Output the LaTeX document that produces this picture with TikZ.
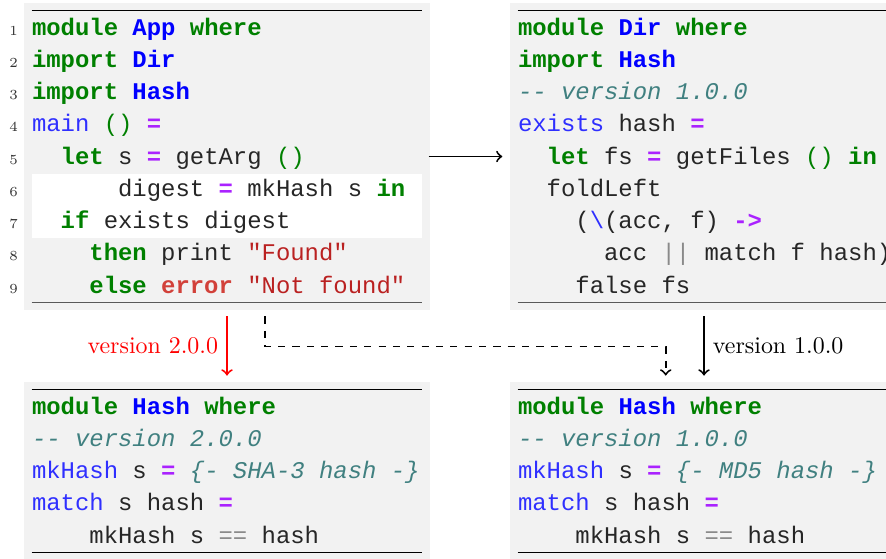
\documentclass[tikz,border=0pt]{standalone}
\usepackage{fontspec}
\setmonofont{Liberation Mono}
\usetikzlibrary{calc}

\definecolor{kwgreen}{HTML}{008000}
\definecolor{nsblue}{HTML}{0000FF}
\definecolor{fnblue}{HTML}{2F2FFF}
\definecolor{opviolet}{HTML}{AA22FF}
\definecolor{cmteal}{HTML}{408080}
\definecolor{strred}{HTML}{BA2121}
\definecolor{excred}{HTML}{D2413A}
\definecolor{opgray}{HTML}{8A8A8A}
\definecolor{codebg}{HTML}{F2F2F2}

% highlighting of the haskell code
\newcommand{\hkw}[1]{\textcolor{kwgreen}{\textbf{#1}}}
\newcommand{\hmod}[1]{\textcolor{nsblue}{\textbf{#1}}}
\newcommand{\hfun}[1]{\textcolor{fnblue}{#1}}
\newcommand{\hbi}[1]{\textcolor{kwgreen}{#1}}
\newcommand{\hop}[1]{\textcolor{opviolet}{\textbf{#1}}}
\newcommand{\hcom}[1]{\textcolor{cmteal}{\textit{#1}}}
\newcommand{\hstr}[1]{\textcolor{strred}{#1}}
\newcommand{\hexc}[1]{\textcolor{excred}{\textbf{#1}}}
\newcommand{\hgop}[1]{\textcolor{opgray}{#1}}

\begin{document}
\begin{tikzpicture}[x=0.418pt,y=-0.418pt,
  codebox/.style={fill=codebg, inner sep=0pt, minimum width=406*0.418pt},
  codeline/.style={anchor=base west, inner sep=0pt, font=\ttfamily, text=black!85},
  lineno/.style={anchor=base, inner sep=0pt, font=\fontsize{5.8}{7}\selectfont, text=black!80},
  flow/.style={thick, ->, shorten <=2.5pt, shorten >=2.5pt}]
\useasboundingbox (0,0) rectangle (886,558);
\clip (0,0) rectangle (886,558);

\node[codebox, minimum height=307*0.418pt] (app) at (227,156.5) {};
\node[codebox, minimum height=307*0.418pt] (dir) at (713,156.5) {};
\node[codebox, minimum height=178*0.418pt] (hashnew) at (227,471) {};
\node[codebox, minimum height=178*0.418pt] (hashold) at (713,471) {};

% highlighted lines 6-7
\fill[white] ($(app.north west)+(8,171)$) rectangle ($(app.north east)+(-8,235.7)$);

% rules
\foreach \b in {app,dir,hashnew,hashold}
  \draw ($(\b.north west)+(8,8)$) -- ($(\b.north east)+(-8,8)$);
\foreach \b in {app,dir}
  \draw[gray!70!black, line width=0.6pt] ($(\b.south west)+(8,-8)$) -- ($(\b.south east)+(-8,-8)$);
\foreach \b in {hashnew,hashold}
  \draw ($(\b.south west)+(8,-8)$) -- ($(\b.south east)+(-8,-8)$);

% module App
\foreach \ind/\txt [count=\i] in {
  0/{\hkw{module} \hmod{App} \hkw{where}},
  0/{\hkw{import} \hmod{Dir}},
  0/{\hkw{import} \hmod{Hash}},
  0/{\hfun{main} \hbi{()} \hop{=}},
  2/{\hkw{let} s \hop{=} getArg \hbi{()}},
  6/{digest \hop{=} mkHash s \hkw{in}},
  2/{\hkw{if} exists digest},
  4/{\hkw{then} print \hstr{"Found"}},
  4/{\hkw{else} \hexc{error} \hstr{"Not found"}}}
{
  \node[lineno] (appno\i) at ($(app.north west)+(-10,{32.5+32.25*(\i-1)})$) {\i};
  \node[codeline] (app\i) at ($(app.north west)+({8+14.35*\ind},{32.5+32.25*(\i-1)})$) {\txt};
}

% module Dir
\foreach \ind/\txt [count=\i] in {
  0/{\hkw{module} \hmod{Dir} \hkw{where}},
  0/{\hkw{import} \hmod{Hash}},
  0/{\hcom{-- version 1.0.0}},
  0/{\hfun{exists} hash \hop{=}},
  2/{\hkw{let} fs \hop{=} getFiles \hbi{()} \hkw{in}},
  2/{foldLeft},
  4/{(\hfun{\textbackslash}(acc, f) \hop{->}},
  6/{acc \hgop{||} match f hash)},
  4/{false fs}}
{
  \node[codeline] (dir\i) at ($(dir.north west)+({8+14.35*\ind},{32.5+32.25*(\i-1)})$) {\txt};
}

% module Hash, version 2.0.0
\foreach \ind/\txt [count=\i] in {
  0/{\hkw{module} \hmod{Hash} \hkw{where}},
  0/{\hcom{-- version 2.0.0}},
  0/{\hfun{mkHash} s \hop{=} \hcom{\{- SHA-3 hash -\}}},
  0/{\hfun{match} s hash \hop{=}},
  4/{mkHash s \hgop{==} hash}}
{
  \node[codeline] (hashnew\i) at ($(hashnew.north west)+({8+14.35*\ind},{32.5+32.25*(\i-1)})$) {\txt};
}

% module Hash, version 1.0.0
\foreach \ind/\txt [count=\i] in {
  0/{\hkw{module} \hmod{Hash} \hkw{where}},
  0/{\hcom{-- version 1.0.0}},
  0/{\hfun{mkHash} s \hop{=} \hcom{\{- MD5 hash -\}}},
  0/{\hfun{match} s hash \hop{=}},
  4/{mkHash s \hgop{==} hash}}
{
  \node[codeline] (hashold\i) at ($(hashold.north west)+({8+14.35*\ind},{32.5+32.25*(\i-1)})$) {\txt};
}

% dependencies
\draw[flow, shorten <=-0.8pt, shorten >=3pt] (app.east) -- (dir.west);
\draw[flow, red] (app.south) -- node[left] {version 2.0.0} (hashnew.north);
\coordinate (dirout) at ($(dir.south)+(-9,0)$);
\coordinate (oldin) at ($(hashold.north)+(-9,0)$);
\draw[flow] (dirout) -- node[right] {version 1.0.0} (oldin);
\coordinate (appout) at ($(app.south)+(38,6)$);
\coordinate (appin) at ($(hashold.north)+(-47.3,-6)$);
\draw[thick, dashed, ->] (appout) -- ++(0,30) -| (appin);
\end{tikzpicture}
\end{document}
